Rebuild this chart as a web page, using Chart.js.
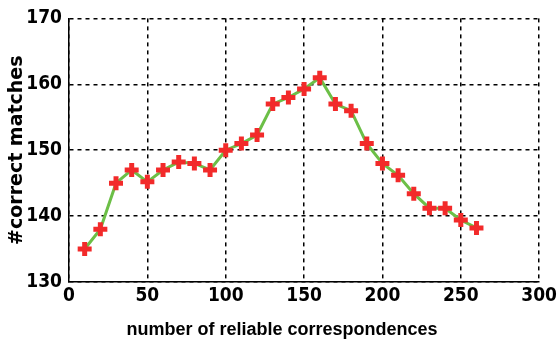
<!DOCTYPE html>
<html>
<head>
<meta charset="utf-8">
<script src="https://cdn.jsdelivr.net/npm/chart.js@4/dist/chart.umd.min.js"></script>
<style>
  html, body { margin: 0; padding: 0; background: #fff; }
  #wrap { width: 560px; height: 347px; position: relative; }
</style>
</head>
<body>
<div id="wrap"><canvas id="matchChart"></canvas></div>
<script>
// number of reliable correspondences
const correspondences = [10, 20, 30, 40, 50, 60, 70, 80, 90, 100, 110, 120, 130,
    140, 150, 160, 170, 180, 190, 200, 210, 220, 230, 240, 250, 260];
// #correct matches
const correctMatches = [135, 138, 145, 147, 145.2, 147, 148.2, 148, 147, 150, 151, 152.3, 157,
    158, 159.3, 161, 157, 156, 151, 148, 146.2, 143.4, 141.2, 141.2, 139.4, 138.2];
const xTicks = [0, 50, 100, 150, 200, 250, 300];
const yTicks = [130, 140, 150, 160, 170];
const xTitle = 'number of reliable correspondences';

const tickFont = { family: '"DejaVu Sans Condensed", "Liberation Sans Narrow", "Liberation Sans"', size: 19, weight: 'bold' };

// x title sits a little left of centre in the original figure
const xTitlePlugin = {
    id: 'xTitle',
    afterDraw(chart) {
        const c = chart.ctx;
        const area = chart.chartArea;
        c.save();
        c.fillStyle = '#000';
        c.font = 'bold 18px "Liberation Sans", Arial';
        c.textAlign = 'center';
        c.textBaseline = 'middle';
        c.fillText(xTitle, (area.left + area.right) / 2 - 22, 330);
        c.restore();
    }
};

const ctx = document.getElementById('matchChart').getContext('2d');
new Chart(ctx, {
    type: 'line',
    data: {
        datasets: [{
            data: correspondences.map((x, i) => ({ x: x, y: correctMatches[i] })),
            borderColor: '#6cbf47',
            borderWidth: 3,
            pointStyle: 'cross',
            pointRadius: 7,
            pointBorderWidth: 5,
            pointBorderColor: '#f22a2a',
            pointBackgroundColor: '#f22a2a',
            tension: 0
        }]
    },
    options: {
        responsive: true,
        maintainAspectRatio: false,
        animation: false,
        layout: { padding: { top: 17, right: 14, left: 0, bottom: 0 } },
        plugins: {
            legend: { display: false },
            tooltip: { enabled: false }
        },
        scales: {
            x: {
                type: 'linear',
                min: 0,
                max: 300,
                afterBuildTicks: s => { s.ticks = xTicks.map(v => ({ value: v })); },
                afterFit: s => { s.height = 65; },
                grid: { color: '#000', lineWidth: 1.5, drawTicks: false },
                border: { display: true, color: '#000', width: 1.5, dash: [4, 4] },
                ticks: { color: '#000', font: tickFont, padding: 3, maxRotation: 0 }
            },
            y: {
                min: 130,
                max: 170,
                afterBuildTicks: s => { s.ticks = yTicks.map(v => ({ value: v })); },
                afterFit: s => { s.width = 69; },
                grid: { color: '#000', lineWidth: 1.5, drawTicks: false },
                border: { display: true, color: '#000', width: 1.5, dash: [4, 4] },
                ticks: { color: '#000', font: tickFont, padding: 7 },
                title: {
                    display: true,
                    text: '#correct matches',
                    color: '#000',
                    font: { family: '"DejaVu Sans", "Liberation Sans"', size: 19, weight: 'bold' },
                    padding: { top: 6, bottom: 0 }
                }
            }
        }
    },
    plugins: [xTitlePlugin]
});
</script>
</body>
</html>
